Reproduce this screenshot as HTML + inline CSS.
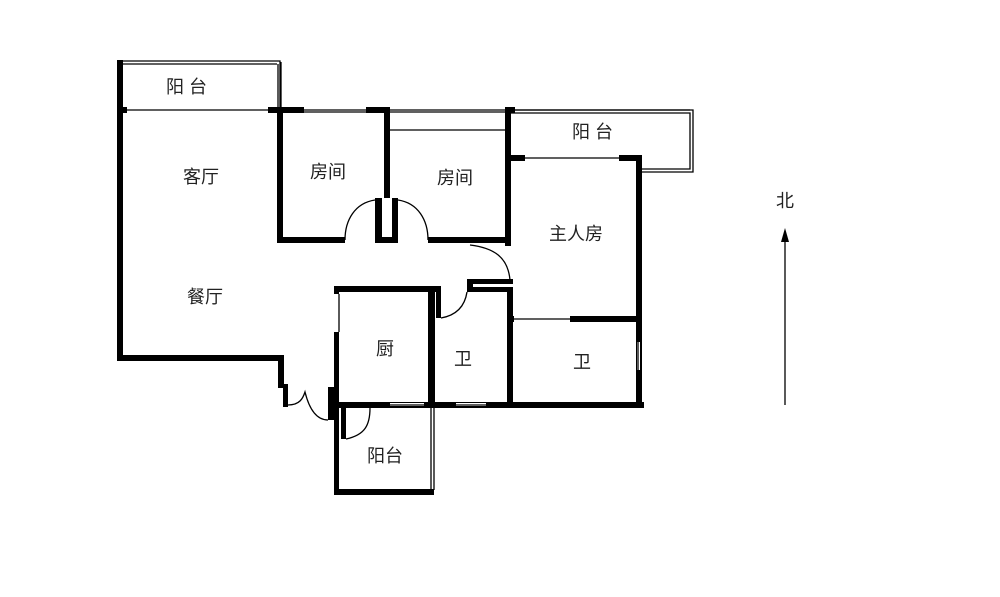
<!DOCTYPE html>
<html><head><meta charset="utf-8"><style>
body{margin:0;background:#fff;width:1000px;height:597px;overflow:hidden}
svg{display:block}
text{font-family:"Liberation Sans","Noto Sans CJK SC",sans-serif;font-size:18px;fill:#222}
</style></head><body>
<svg width="1000" height="597" viewBox="0 0 1000 597">
<g fill="#000">
<rect x="117" y="60" width="6" height="300"/>
<rect x="117" y="355" width="166" height="6"/>
<rect x="278" y="355" width="6" height="33"/>
<rect x="278" y="384" width="8" height="4"/>
<rect x="283" y="384" width="5" height="23"/>
<rect x="328" y="387" width="6" height="33"/>
<rect x="277" y="108" width="6" height="134"/>
<rect x="277" y="237" width="68" height="6"/>
<rect x="384" y="108" width="6" height="90"/>
<rect x="375" y="198" width="7" height="45"/>
<rect x="392" y="198" width="6" height="45"/>
<rect x="375" y="237" width="23" height="6"/>
<rect x="428" y="237" width="82" height="6"/>
<rect x="505" y="108" width="6" height="135"/>
<rect x="505" y="240" width="6" height="6"/>
<rect x="117" y="107" width="10" height="6"/>
<rect x="268" y="107" width="36" height="6"/>
<rect x="366" y="107" width="24" height="6"/>
<rect x="505" y="107" width="10" height="6"/>
<rect x="505" y="155" width="20" height="6"/>
<rect x="619" y="155" width="23" height="6"/>
<rect x="636" y="155" width="6" height="252"/>
<rect x="570" y="316" width="72" height="6"/>
<rect x="508" y="316" width="6" height="6"/>
<rect x="467" y="279" width="46" height="5"/>
<rect x="467" y="279" width="6" height="13"/>
<rect x="467" y="287" width="46" height="5"/>
<rect x="507" y="287" width="6" height="120"/>
<rect x="334" y="286" width="103" height="6"/>
<rect x="334" y="286" width="5" height="8"/>
<rect x="334" y="332" width="5" height="75"/>
<rect x="428" y="286" width="7" height="120"/>
<rect x="436" y="286" width="5" height="32"/>
<rect x="334" y="402" width="310" height="6"/>
<rect x="334" y="402" width="5" height="92"/>
<rect x="341" y="402" width="5" height="37"/>
<rect x="334" y="489" width="100" height="6"/>
</g>
<g fill="#fff">
<rect x="390" y="403" width="34" height="3"/>
<rect x="456" y="403" width="30" height="3"/>
<rect x="637" y="342" width="3" height="28"/>
</g>
<g stroke="#000" stroke-width="1.3" fill="none">
<path d="M120 61H280V110 M120 64H277"/>
<path d="M278 64V108 M281 62V108"/>
<path d="M127 110H268 M304 110H366 M390 110H690 M304 112H366 M390 112H505"/>
<path d="M389 130H507"/>
<path d="M511 110H693V172H642 M511 113H690V169H642"/>
<path d="M525 158H619"/>
<path d="M514 319H570"/>
<path d="M345 240C345 220 355 203 375 200"/>
<path d="M428 240C428 220 418 203 398 200"/>
<path d="M470 245C495 248 508 258 510 280"/>
<path d="M441 318C458 315 465 305 467 292"/>
<path d="M339 294V332"/>
<path d="M288 405C300 405 303 398 305 392C310 412 318 420 328 420"/>
<path d="M346 439C365 435 370 425 370 408"/>
<path d="M431 408V490 M434 408V490"/>
<path d="M390 405H424 M456 405H486 M638 342V370"/>
<path d="M785 238V405"/>
</g>
<path d="M785 228L781 242H789Z" fill="#000"/>
<text x="166" y="93">阳 台</text>
<text x="183" y="183">客厅</text>
<text x="187" y="303">餐厅</text>
<text x="310" y="178">房间</text>
<text x="437" y="184">房间</text>
<text x="572" y="138">阳 台</text>
<text x="549" y="240">主人房</text>
<text x="376" y="355">厨</text>
<text x="454" y="365">卫</text>
<text x="573" y="368">卫</text>
<text x="367" y="462">阳台</text>
<text x="776" y="207">北</text>
</svg>
</body></html>
